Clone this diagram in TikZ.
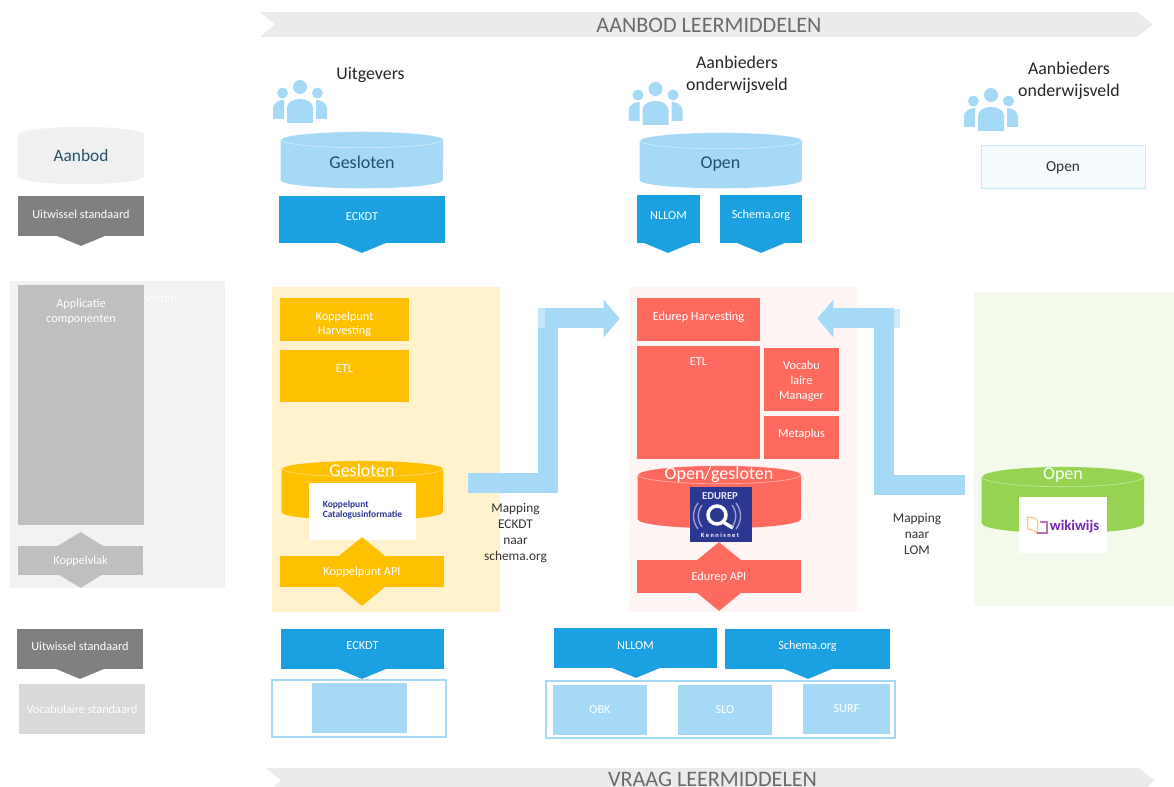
\documentclass[tikz,border=0pt]{standalone}
\usepackage{fontspec}
\setmainfont{Carlito}
\usetikzlibrary{arrows.meta,shapes.geometric,calc}
\definecolor{skyblue}{HTML}{A6D9F6}
\definecolor{midblue}{HTML}{1BA1E2}
\definecolor{amber}{HTML}{FFC000}
\definecolor{coral}{HTML}{FF6A5E}
\definecolor{leaf}{HTML}{95D351}
\definecolor{navy}{HTML}{24506B}
\definecolor{logoblue}{HTML}{2C3792}
\tikzset{
	wh/.style 2 args={minimum width=#1*0.75pt, minimum height=#2*0.75pt},
	box/.style={rectangle, inner sep=0pt, align=center, text=white, font=\fontsize{9.2}{11.2}\selectfont},
	panel/.style={rectangle, inner sep=0pt},
	tip/.style={diamond, inner sep=0pt, wh={48}{20}},
	cyltext/.style={text=white, inner sep=0pt, font=\fontsize{13.5}{15}\selectfont},
	actor/.style={align=center, text=black!85, inner sep=0pt, font=\fontsize{13.4}{16.5}\selectfont},
	maptext/.style={align=center, text=black!80, inner sep=0pt, font=\fontsize{10}{12}\selectfont},
	lane/.style={fill=black!8},
	lanetext/.style={text=black!58, inner sep=0pt, font=\fontsize{16.6}{18}\selectfont},
	logotext/.style={inner sep=0pt, align=left, text=logoblue, font=\bfseries\fontsize{7.1}{8}\selectfont},
	flow/.style={draw=skyblue, line width=15pt, -{Triangle[length=12pt,width=27.5pt]}},
	people/.pic={
		\fill[skyblue] (0,-36) circle (7) (-17.5,-30) circle (5.5) (17.5,-30) circle (5.5);
		\fill[skyblue] (-13,0) -- (-13,-15) .. controls (-13,-27) and (13,-27) .. (13,-15) -- (13,0) -- cycle;
		\fill[skyblue] (-27,-4) -- (-27,-14) .. controls (-27,-21) and (-20,-23) .. (-16,-23) -- (-16,-21) .. controls (-16,-16) and (-16,-10) .. (-16,-4) -- cycle;
		\fill[skyblue] (27,-4) -- (27,-14) .. controls (27,-21) and (20,-23) .. (16,-23) -- (16,-21) .. controls (16,-16) and (16,-10) .. (16,-4) -- cycle;
	}
}
% name, x, y, width, height, end radius, colour
\newcommand{\drum}[7]{
	\node[panel, wh={#4}{#5}] (#1) at (#2,#3) {};
	\fill[#7] ($(#1.north west)+(0,#6)$) -- ($(#1.south west)-(0,#6)$) arc[start angle=180, end angle=360, x radius=#4*0.375pt, y radius=#6*0.75pt] -- ($(#1.north east)+(0,#6)$) arc[start angle=0, end angle=180, x radius=#4*0.375pt, y radius=#6*0.75pt] -- cycle;
	\draw[white, opacity=.45, line width=.5pt] ($(#1.north)+(0,#6)$) ellipse[x radius=#4*0.375pt, y radius=#6*0.75pt];
}
\begin{document}
\begin{tikzpicture}[x=0.75pt, y=-0.75pt]
	\clip (0,0) rectangle (1174,787);
	\useasboundingbox (0,0) rectangle (1174,787);

	% lanes
	\fill[lane] (260,12) -- (1137,12) -- (1153,24.5) -- (1137,37) -- (260,37) -- (275,24.5) -- cycle;
	\fill[lane] (266,768) -- (1139,768) -- (1155,780.5) -- (1139,793) -- (266,793) -- (281,780.5) -- cycle;
	\node[lanetext] (aanbodlane) at (709,25) {AANBOD LEERMIDDELEN};
	\node[lanetext, anchor=base] (vraaglane) at (712.5,786) {VRAAG LEERMIDDELEN};

	% legend
	\drum{aanbodcyl}{81}{155.5}{126}{57}{8}{black!6}
	\node[cyltext, text=navy, font=\fontsize{13}{15}\selectfont] (aanbodtxt) at (81,156) {Aanbod};
	\node[tip, fill=black!50] (uitwAtip) at (81,236) {};
	\node[box, fill=black!50, wh={126}{40}, label={[box,yshift=1pt]center:Uitwissel standaard}] (uitwA) at (81,216) {};
	\node[panel, fill=black!5, wh={215}{307}] (appback) at (117.5,434.5) {};
	\node[box, text=white] (appstray) at (142,300) {componenten};
	\node[box, fill=black!25, wh={126}{240}] (appcomp) at (81,405) {};
	\node[box] (apptxt) at (81,311.5) {Applicatie\\componenten};
	\node[tip, fill=black!25, wh={92}{56}] (koppeltip) at (80.5,560) {};
	\node[box, fill=black!25, wh={125}{29}, label={[box,yshift=-.6pt]center:Koppelvlak}] (koppelvlak) at (80.5,560.5) {};
	\node[tip, fill=black!50] (uitwBtip) at (80,669) {};
	\node[box, fill=black!50, wh={126}{40}, label={[box,yshift=2pt]center:Uitwissel standaard}] (uitwB) at (80,649) {};
	\node[box, fill=black!15, wh={126}{50}] (vocstd) at (82,709) {Vocabulaire standaard};

	% aanbod
	\node[actor] (uitgevers) at (370.5,74.5) {Uitgevers};
	\node[actor] (aanbiederA) at (737,74.5) {Aanbieders\\onderwijsveld};
	\node[actor] (aanbiederB) at (1069,80.5) {Aanbieders\\onderwijsveld};
	\pic at (300,123) {people};
	\pic at (655.5,125) {people};
	\pic at (991,131) {people};

	\drum{geslotenA}{362}{160}{162}{56}{8}{skyblue}
	\node[cyltext, text=navy] (geslotenAtxt) at (362,162) {Gesloten};
	\drum{openA}{721}{160.5}{162}{55}{8}{skyblue}
	\node[cyltext, text=navy] (openAtxt) at (720.5,164) {Open};
	\node[panel, fill=skyblue!10, draw=skyblue!60, wh={164}{43}, label={[inner sep=0pt, text=black!80, font=\fontsize{11.5}{13}\selectfont, yshift=-1pt]center:Open}] (openB) at (1063,166.5) {};

	\node[tip, fill=midblue] (eckdtAtip) at (362,243) {};
	\node[box, fill=midblue, wh={166}{47}, label={[box,yshift=2.5pt]center:ECKDT}] (eckdtA) at (362,219.5) {};
	\node[tip, fill=midblue] (nllomAtip) at (668,243) {};
	\node[box, fill=midblue, wh={63}{48}, label={[box,yshift=2.5pt]center:NLLOM}] (nllomA) at (668.5,219) {};
	\node[tip, fill=midblue] (schemaAtip) at (761,243) {};
	\node[box, fill=midblue, wh={82}{48}, label={[box,yshift=2.5pt]center:Schema.org}] (schemaA) at (761,219) {};

	% panels
	\node[panel, fill=amber!20, wh={228}{325}] (yellowpanel) at (386,449.5) {};
	\node[panel, fill=coral!7, wh={228}{325}] (redpanel) at (743,449.5) {};
	\node[panel, fill=leaf!11, wh={200}{314}] (greenpanel) at (1074,449) {};

	% koppelpunt
	\node[box, fill=amber, wh={129}{43}, label={[box,yshift=-3.6pt]center:Koppelpunt\\Harvesting}] (harvestK) at (344.5,319.5) {};
	\node[box, fill=amber, wh={129}{52}, label={[box,yshift=5.5pt]center:ETL}] (etlK) at (344.5,376) {};
	\drum{geslotenB}{362.5}{490.5}{161}{59}{8}{amber}
	\node[cyltext] (geslotenBtxt) at (362,470.5) {Gesloten};
	\node[panel, fill=white, wh={107}{57}, label={[logotext, yshift=1.2pt]center:Koppelpunt\\Catalogusinformatie}] (logoK) at (362.5,511.5) {};
	\node[tip, fill=amber, wh={84}{69}] (apiKtip) at (362,571.5) {};
	\node[box, fill=amber, wh={164}{31}, label={[box,yshift=-.6pt]center:Koppelpunt API}] (apiK) at (362,571.5) {};

	% edurep
	\node[box, fill=coral, wh={123}{43}, label={[box,yshift=2pt]center:Edurep Harvesting}] (harvestE) at (698.5,319.5) {};
	\node[box, fill=coral, wh={123}{113}, label={[box,yshift=31pt]center:ETL}] (etlE) at (698.5,402.5) {};
	\node[box, fill=coral, wh={75}{63}, label={[box,yshift=-1.5pt]center:Vocabu\\laire\\Manager}] (vocab) at (801.5,379.5) {};
	\node[box, fill=coral, wh={75}{43}, label={[box,yshift=2.5pt]center:Metaplus}] (metaplus) at (801.5,437.5) {};
	\drum{opengesl}{719.5}{497}{163}{62}{9}{coral}
	\node[cyltext, font=\fontsize{13.5}{15}\selectfont] (opengesltxt) at (719,474.5) {Open/gesloten};
	\node[panel, fill=logoblue, wh={62}{55}] (logoE) at (721,514.5) {};
	\node[inner sep=0pt, text=white!90!blue, font=\bfseries\fontsize{8}{9}\selectfont] (logoEtop) at (720,496) {EDUREP};
	\node[inner sep=0pt, text=white, font=\bfseries\fontsize{4.8}{6}\selectfont] (logoEbot) at (720,535.5) {K e n n i s n e t};
	\draw[white, line width=2.6pt] (717,515) circle (9);
	\draw[white, line width=2.6pt] (723,522) -- (733,528);
	\draw[white!55!logoblue, line width=1pt] (702,505) .. controls (697,512) and (697,520) .. (702,527) (732,505) .. controls (737,512) and (737,520) .. (732,527) (698,503) .. controls (692,511) and (692,521) .. (698,529) (736,503) .. controls (742,511) and (742,521) .. (736,529);
	\node[tip, fill=coral, wh={84}{69}] (apiEtip) at (719,576.5) {};
	\node[box, fill=coral, wh={164}{33}, label={[box,yshift=-.4pt]center:Edurep API}] (apiE) at (719,576.5) {};

	% wikiwijs
	\drum{openC}{1063}{500}{162}{66}{10}{leaf}
	\node[cyltext] (openCtxt) at (1063,475.5) {Open};
	\node[panel, fill=white, wh={88}{56}] (logoW) at (1063,525) {};
	\node[inner sep=0pt, text=violet!70!blue!85!white, font=\bfseries\fontsize{11}{12}\selectfont] (logoWtxt) at (1074.5,527) {wikiwijs};
	\draw[orange!50, line width=.8pt] (1038,521) .. controls (1034,517) and (1031,517) .. (1027.5,517) -- (1028,529) .. controls (1032,529) and (1035,531) .. (1037,534) -- cycle;
	\draw[violet!55, line width=.8pt] (1040,522) -- (1047,522) -- (1047,533) -- (1037,533);

	% mapping arrows
	\coordinate (mapA) at (468,483.5);
	\coordinate (bendA) at (548,318.5);
	\coordinate (mapB) at (965,485);
	\coordinate (bendB) at (883.5,318.5);
	\draw[flow, shorten >=12.75pt] (mapA) -| (bendA) -- (bendA -| harvestE.west);
	\draw[flow, shorten >=42.75pt] (mapB) -| (bendB) -- (bendB -| harvestE.east);
	\fill[white, opacity=.35] (538,308.5) rectangle (545,328.5);
	\fill[skyblue!55] (893.5,309) rectangle (900,328.5);
	\node[maptext] (mapAtxt) at (515.5,533) {Mapping\\ECKDT\\naar\\schema.org};
	\node[maptext] (mapBtxt) at (917,534) {Mapping\\naar\\LOM};

	% vraag
	\node[tip, fill=midblue] (eckdtBtip) at (362,669) {};
	\node[box, fill=midblue, wh={163}{40}, label={[box,yshift=2.5pt]center:ECKDT}] (eckdtB) at (362.5,649) {};
	\node[tip, fill=midblue] (nllomBtip) at (636,668) {};
	\node[box, fill=midblue, wh={163}{40}, label={[box,yshift=1.5pt]center:NLLOM}] (nllomB) at (635.5,648) {};
	\node[tip, fill=midblue] (schemaBtip) at (808,669) {};
	\node[box, fill=midblue, wh={165}{40}, label={[box,yshift=2pt]center:Schema.org}] (schemaB) at (807.5,649) {};

	\node[panel, draw=skyblue, line width=.9pt, wh={174}{57}] (frameA) at (359,708.5) {};
	\node[box, fill=skyblue, wh={95}{50}] (blank) at (359.5,708) {};
	\node[panel, draw=skyblue, line width=.9pt, wh={349}{57}] (frameB) at (720.5,709.5) {};
	\node[box, fill=skyblue, wh={94}{50}] (obk) at (600,710) {OBK};
	\node[box, fill=skyblue, wh={94}{50}] (slo) at (725,710) {SLO};
	\node[box, fill=skyblue, wh={87}{50}] (surf) at (846.5,709) {SURF};
\end{tikzpicture}
\end{document}
